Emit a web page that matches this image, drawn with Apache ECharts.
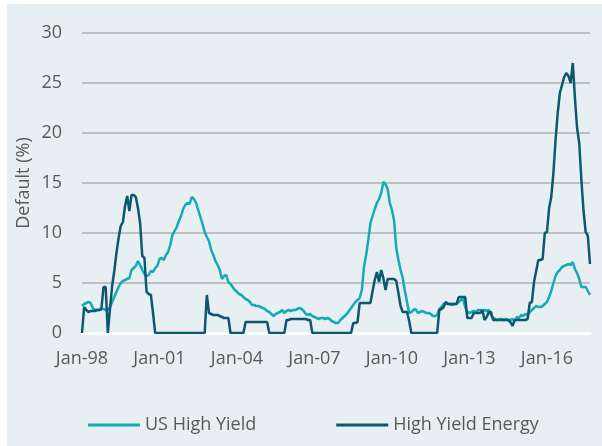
<!DOCTYPE html>
<html>
<head>
<meta charset="utf-8">
<script src="https://cdn.jsdelivr.net/npm/echarts@6/dist/echarts.min.js"></script>
<style>
  html, body { margin: 0; padding: 0; background: #ffffff; }
  #chart { width: 602px; height: 446px; }
</style>
</head>
<body>
<div id="chart"></div>
<script>
// Monthly default rates (%), Jan-1998 through Sep-2017
const startYear = 1998;
const monthCount = 237;

const usHighYield = [
  // 1998
  2.7, 2.9, 3.0, 3.1, 3.0, 2.5, 2.3, 2.3, 2.3, 2.4, 2.4, 2.3,
  // 1999
  2.3, 2.6, 3.1, 3.6, 4.1, 4.6, 5.0, 5.2, 5.3, 5.4, 5.5, 6.3,
  // 2000
  6.5, 6.7, 7.2, 6.8, 6.3, 5.9, 5.7, 5.8, 6.2, 6.1, 6.5, 6.7,
  // 2001
  7.4, 7.5, 7.3, 7.8, 8.1, 8.8, 9.8, 10.2, 10.6, 11.2, 11.7, 12.4,
  // 2002
  12.8, 13.0, 12.9, 13.6, 13.4, 13.0, 12.3, 11.6, 10.9, 10.1, 9.6, 9.2,
  // 2003
  8.3, 7.8, 7.2, 6.8, 6.3, 5.4, 5.7, 5.8, 5.1, 4.9, 4.6, 4.3,
  // 2004
  4.1, 3.9, 3.8, 3.6, 3.4, 3.3, 3.1, 2.8, 2.8, 2.7, 2.7, 2.6,
  // 2005
  2.5, 2.4, 2.2, 2.1, 1.9, 1.7, 1.9, 2.0, 2.1, 2.3, 2.0, 2.2,
  // 2006
  2.3, 2.2, 2.3, 2.3, 2.4, 2.5, 2.4, 2.2, 1.9, 1.8, 1.9, 1.7,
  // 2007
  1.6, 1.5, 1.4, 1.5, 1.5, 1.4, 1.5, 1.4, 1.2, 1.1, 1.0, 1.0,
  // 2008
  1.3, 1.5, 1.7, 1.9, 2.2, 2.5, 2.8, 3.1, 3.3, 3.5, 4.3, 6.6,
  // 2009
  7.8, 9.3, 11.0, 11.7, 12.4, 13.0, 13.4, 14.0, 15.1, 14.9, 14.4, 13.0,
  // 2010
  12.3, 11.2, 8.5, 7.3, 6.3, 5.5, 4.2, 3.1, 2.0, 2.1, 2.3, 2.4,
  // 2011
  2.0, 2.1, 2.2, 2.1, 2.0, 2.0, 1.9, 1.7, 1.7, 1.8, 2.4, 2.6,
  // 2012
  2.9, 3.0, 2.9, 2.9, 2.8, 2.9, 2.9, 3.1, 3.3, 3.4, 2.6, 2.1,
  // 2013
  2.0, 2.1, 2.2, 2.1, 2.3, 2.3, 2.2, 2.3, 2.2, 2.3, 1.8, 1.5,
  // 2014
  1.4, 1.3, 1.4, 1.4, 1.3, 1.4, 1.3, 1.3, 1.4, 1.2, 1.6, 1.5,
  // 2015
  1.8, 1.7, 1.9, 1.8, 2.1, 2.3, 2.5, 2.7, 2.6, 2.6, 2.7, 2.9,
  // 2016
  3.1, 3.6, 4.2, 5.0, 5.7, 6.1, 6.3, 6.6, 6.7, 6.8, 6.9, 6.8,
  // 2017
  7.1, 6.4, 6.0, 5.4, 4.6, 4.6, 4.6, 4.2, 3.8
];

const highYieldEnergy = [
  // 1998
  0, 2.6, 2.3, 2.1, 2.2, 2.2, 2.2, 2.3, 2.3, 2.4, 4.6, 4.6,
  // 1999
  0, 2.4, 4.7, 6.2, 8.0, 9.5, 10.7, 11.1, 12.7, 13.7, 12.2, 13.8,
  // 2000
  13.8, 13.6, 12.5, 11.0, 7.7, 7.5, 4.1, 3.9, 3.8, 2.0, 0, 0,
  // 2001
  0, 0, 0, 0, 0, 0, 0, 0, 0, 0, 0, 0,
  // 2002
  0, 0, 0, 0, 0, 0, 0, 0, 0, 0, 3.8, 2.0,
  // 2003
  1.9, 1.8, 1.8, 1.8, 1.7, 1.6, 1.5, 1.5, 1.5, 0, 0, 0,
  // 2004
  0, 0, 0, 0, 1.1, 1.1, 1.1, 1.1, 1.1, 1.1, 1.1, 1.1,
  // 2005
  1.1, 1.1, 1.1, 0, 0, 0, 0, 0, 0, 0, 0, 1.3,
  // 2006
  1.3, 1.4, 1.4, 1.4, 1.4, 1.4, 1.4, 1.4, 1.4, 1.3, 1.3, 0,
  // 2007
  0, 0, 0, 0, 0, 0, 0, 0, 0, 0, 0, 0,
  // 2008
  0, 0, 0, 0, 0, 0, 1.0, 1.0, 1.1, 3.0, 3.0, 3.0,
  // 2009
  3.0, 3.0, 3.0, 4.2, 5.3, 6.1, 5.1, 6.3, 5.5, 4.3, 5.4, 5.4,
  // 2010
  5.4, 5.4, 5.2, 4.0, 2.7, 2.1, 2.1, 2.1, 1.2, 0, 0, 0,
  // 2011
  0, 0, 0, 0, 0, 0, 0, 0, 0, 0, 2.3, 2.4,
  // 2012
  2.6, 3.1, 2.9, 2.9, 2.9, 2.9, 2.9, 3.6, 3.6, 3.6, 3.6, 1.5,
  // 2013
  1.5, 1.5, 2.0, 2.0, 2.0, 2.0, 2.3, 1.3, 1.6, 2.1, 2.1, 1.3,
  // 2014
  1.3, 1.3, 1.3, 1.3, 1.3, 1.3, 1.3, 1.1, 0.7, 1.3, 1.3, 1.3,
  // 2015
  1.3, 1.3, 1.3, 1.4, 3.0, 3.1, 5.1, 6.2, 7.3, 7.3, 7.4, 10.0,
  // 2016
  10.1, 12.5, 13.6, 16.0, 19.3, 22.0, 24.0, 24.8, 25.6, 26.0, 25.7, 25.0,
  // 2017
  27.0, 23.5, 20.5, 19.0, 15.3, 12.2, 10.1, 9.7, 6.9
];

const seriesNames = ['US High Yield', 'High Yield Energy'];
const yTicks = [0, 5, 10, 15, 20, 25, 30];
const xTickLabels = ['Jan-98', 'Jan-01', 'Jan-04', 'Jan-07', 'Jan-10', 'Jan-13', 'Jan-16'];

// Month labels in "Mon-YY" form
const monthAbbr = ['Jan','Feb','Mar','Apr','May','Jun','Jul','Aug','Sep','Oct','Nov','Dec'];
const months = [];
for (let i = 0; i < monthCount; i++) {
  const y = startYear + Math.floor(i / 12);
  months.push(monthAbbr[i % 12] + '-' + String(y % 100).padStart(2, '0'));
}

const textColor = '#595959';
const fontFamily = '"Open Sans", "Noto Sans", sans-serif';

const chart = echarts.init(document.getElementById('chart'), null, { renderer: 'canvas' });
chart.setOption({
  animation: false,
  backgroundColor: '#ffffff',
  graphic: [{
    type: 'rect',
    z: -10,
    shape: { x: 7, y: 4, width: 595, height: 442 },
    style: { fill: '#e7eff2' },
    silent: true
  }],
  grid: { left: 82, right: 12, top: 33, bottom: 113 },
  legend: {
    data: seriesNames,
    left: 83,
    top: 411,
    icon: 'rect',
    itemWidth: 52,
    itemHeight: 3,
    itemGap: 80,
    textStyle: { color: textColor, fontSize: 18, fontFamily: fontFamily }
  },
  xAxis: {
    type: 'category',
    data: months,
    boundaryGap: false,
    z: 1,
    axisLine: { show: true, lineStyle: { color: '#ffffff', width: 3 } },
    axisTick: { show: false },
    axisLabel: {
      interval: function (idx, val) { return xTickLabels.indexOf(val) >= 0; },
      color: textColor,
      fontSize: 18,
      fontFamily: fontFamily,
      margin: 17
    },
    splitLine: { show: false }
  },
  yAxis: {
    type: 'value',
    min: yTicks[0],
    max: yTicks[yTicks.length - 1],
    interval: 5,
    name: 'Default (%)',
    nameLocation: 'middle',
    nameRotate: 90,
    nameGap: 49,
    nameMoveOverlap: false,
    nameTextStyle: { color: textColor, fontSize: 18, fontFamily: fontFamily },
    axisLine: { show: false },
    axisTick: { show: false },
    axisLabel: { color: textColor, fontSize: 18, fontFamily: fontFamily, margin: 20 },
    splitLine: { show: true, lineStyle: { color: '#bfbfbf', width: 2 } }
  },
  series: [
    {
      name: seriesNames[0],
      type: 'line',
      data: usHighYield,
      symbol: 'none',
      color: '#15aab6',
      lineStyle: { color: '#15aab6', width: 2.5 }
    },
    {
      name: seriesNames[1],
      type: 'line',
      data: highYieldEnergy,
      symbol: 'none',
      color: '#0c5870',
      lineStyle: { color: '#0c5870', width: 2.5 }
    }
  ]
});
</script>
</body>
</html>
